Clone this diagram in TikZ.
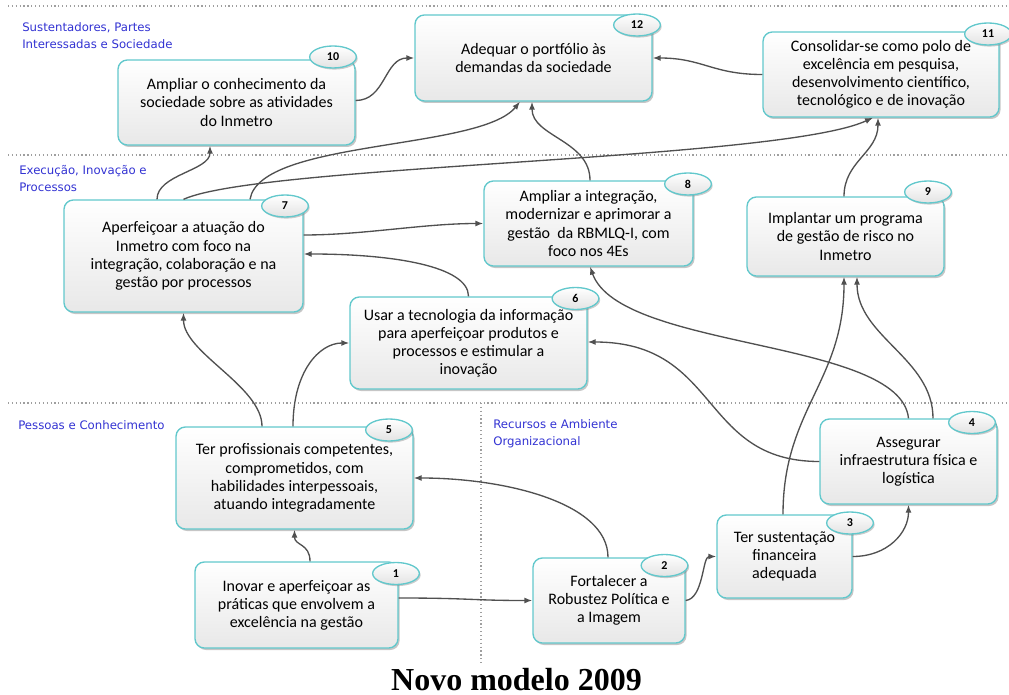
\documentclass[tikz,border=0pt]{standalone}
\usepackage{fontspec}
\setmainfont{Carlito}
\newfontfamily\areafont{DejaVu Sans}
\newfontfamily\titlefont{Liberation Serif}
\usepackage{tikz}
\usetikzlibrary{shapes,arrows.meta,calc,shadows}
\definecolor{boxrim}{RGB}{98,200,204}
\definecolor{linkgray}{RGB}{80,80,80}
\definecolor{areablue}{RGB}{50,50,210}

\begin{document}
\begin{tikzpicture}[x=0.75pt, y=-0.75pt,
	goal_box/.style 2 args={rectangle, rounded corners=7pt, draw=boxrim, line width=1pt, top color=white, bottom color=gray!18, drop shadow={shadow xshift=1.2pt, shadow yshift=-1.5pt, opacity=0.45}, minimum width=#1, minimum height=#2, inner sep=0pt, align=center, font=\fontsize{12}{13.6}\selectfont},
	num_badge/.style={ellipse, draw=boxrim, line width=1pt, top color=white, bottom color=gray!22, drop shadow={shadow xshift=1pt, shadow yshift=-1.2pt, opacity=0.4}, minimum width=35pt, minimum height=16.5pt, inner sep=0pt, font=\fontsize{9}{10}\selectfont\bfseries},
	link_arrow/.style={-{Latex[length=6pt,width=4.5pt]}, draw=linkgray, line width=1pt},
	area_label/.style={anchor=north west, inner sep=0pt, align=left, text=areablue, font=\areafont\fontsize{8.8}{12.75}\selectfont},
	sep_line/.style={dotted, draw=gray!75, line width=0.9pt}]
	\useasboundingbox (0,0) rectangle (1009,695);
	
	% faixas
	\draw[sep_line] (8,6) -- (1009,6);
	\draw[sep_line] (8,155) -- (1009,155);
	\draw[sep_line] (8,403) -- (1009,403);
	\draw[sep_line] (481,403) -- (481,665);
	
	\node[area_label] (lab_soc) at (22,22) {Sustentadores, Partes\\Interessadas e Sociedade};
	\node[area_label] (lab_exe) at (19,165) {Execução, Inovação e\\Processos};
	\node[area_label] (lab_pes) at (18,420) {Pessoas e Conhecimento};
	\node[area_label] (lab_rec) at (493,419) {Recursos e Ambiente\\Organizacional};
	
	% objetivos
	\node[goal_box={177.75pt}{63.75pt}] (g10) at (236.5,102.5) {Ampliar o conhecimento da\\sociedade sobre as atividades\\do Inmetro};
	\node[goal_box={177.75pt}{64.5pt}] (g12) at (533.5,58) {Adequar o portfólio às\\demandas da sociedade};
	\node[goal_box={177pt}{63.75pt}] (g11) at (881,74.5) {Consolidar-se como polo de\\excelência em pesquisa,\\desenvolvimento científico,\\tecnológico e de inovação};
	\node[goal_box={179.25pt}{84pt}] (g7) at (183.5,256) {Aperfeiçoar a atuação do\\Inmetro com foco na\\integração, colaboração e na\\gestão por processos};
	\node[goal_box={156.75pt}{63.75pt}] (g8) at (588.5,223.5) {Ampliar a integração,\\modernizar e aprimorar a\\gestão~ da RBMLQ-I, com\\foco nos 4Es};
	\node[goal_box={147.75pt}{59.25pt}] (g9) at (845.5,236.5) {Implantar um programa\\de gestão de risco no\\Inmetro};
	\node[goal_box={177.75pt}{69pt}] (g6) at (468.5,343) {Usar a tecnologia da informação\\para aperfeiçoar produtos e\\processos e estimular a\\inovação};
	\node[goal_box={177.75pt}{76.5pt}] (g5) at (294.5,478) {Ter profissionais competentes,\\comprometidos, com\\habilidades interpessoais,\\atuando integradamente};
	\node[goal_box={132.75pt}{63.75pt}] (g4) at (908.5,461.5) {Assegurar\\infraestrutura física e\\logística};
	\node[goal_box={101.25pt}{62.25pt}] (g3) at (784.5,556.5) {Ter sustentação\\financeira\\adequada};
	\node[goal_box={114pt}{63.75pt}] (g2) at (609,600.5) {Fortalecer a\\Robustez Política e\\a Imagem};
	\node[goal_box={152.25pt}{64.5pt}] (g1) at (296.5,605) {Inovar e aperfeiçoar as\\práticas que envolvem a\\excelência na gestão};
	
	% numeros
	\node[num_badge] (n10) at (333,57) {10};
	\node[num_badge] (n12) at (637,25) {12};
	\node[num_badge] (n11) at (988,34) {11};
	\node[num_badge] (n7) at (285,206) {7};
	\node[num_badge] (n8) at (688,184) {8};
	\node[num_badge] (n9) at (928,192) {9};
	\node[num_badge] (n6) at (575.5,298.5) {6};
	\node[num_badge] (n5) at (389,430) {5};
	\node[num_badge] (n4) at (972,422.5) {4};
	\node[num_badge] (n3) at (850,523) {3};
	\node[num_badge] (n2) at (664.5,565.5) {2};
	\node[num_badge] (n1) at (396,573.5) {1};
	
	% ligacoes
	\draw[link_arrow] ($(g1.north)+(13.5,0)$) .. controls +(0,-18) and +(0,16) .. (g5.south);
	\draw[link_arrow] ($(g1.east)+(0,-7)$) .. controls +(70,0) and +(-60,0) .. (g2.west);
	\draw[link_arrow] (g2.east) .. controls +(18,-2) and +(-14,0) .. (g3.west);
	\draw[link_arrow] (g3.east) .. controls +(35,0) and +(0,28) .. (g4.south);
	\draw[link_arrow] ($(g2.north)+(-1,0)$) .. controls +(0,-55) and +(90,0) .. (g5.east);
	\draw[link_arrow] ($(g3.north)+(-1.5,0)$) .. controls +(0,-105) and +(0,105) .. ($(g9.south)+(-1.5,0)$);
	\draw[link_arrow] ($(g4.north)+(24.5,0)$) .. controls +(0,-60) and +(0,60) .. ($(g9.south)+(11.5,0)$);
	\draw[link_arrow] (g4.north) .. controls +(-8,-80) and +(30,84) .. ($(g8.south)+(1.5,0)$);
	\draw[link_arrow] (g4.west) .. controls +(-120,0) and +(133,0) .. ($(g6.east)+(0,-1)$);
	\draw[link_arrow] ($(g5.north)+(-32.5,0)$) .. controls +(0,-40) and +(0,40) .. (g7.south);
	\draw[link_arrow] ($(g5.north)+(-1.5,0)$) .. controls +(0,-55) and +(-30,0) .. (g6.west);
	\draw[link_arrow] (g6.north) .. controls +(0,-30) and +(90,0) .. ($(g7.east)+(0,-2)$);
	\draw[link_arrow] ($(g7.east)+(0,-21)$) .. controls +(60,0) and +(-60,0) .. (g8.west);
	\draw[link_arrow] ($(g7.north)+(-26.5,0)$) .. controls +(0,-25) and +(0,25) .. ($(g10.south)+(-26.5,0)$);
	\draw[link_arrow] ($(g7.north)+(66.5,0)$) .. controls +(10,-60) and +(-40,49) .. ($(g12.south)+(-13.5,0)$);
	\draw[link_arrow] (g7.north) .. controls +(77,-35) and +(-93,43) .. ($(g11.south)+(-8,0)$);
	\draw[link_arrow] ($(g8.north)+(1.5,0)$) .. controls +(0,-40) and +(0,35) .. ($(g12.south)+(-1.5,0)$);
	\draw[link_arrow] ($(g9.north)+(-1.5,0)$) .. controls +(0,-35) and +(0,35) .. ($(g11.south)+(-3,0)$);
	\draw[link_arrow] ($(g10.east)+(0,-2)$) .. controls +(30,0) and +(-30,0) .. (g12.west);
	\draw[link_arrow] (g11.west) .. controls +(-50,0) and +(50,0) .. (g12.east);
	
	\node[anchor=base, inner sep=0pt, font=\titlefont\bfseries\fontsize{24}{28}\selectfont] (title) at (516.5,690) {Novo modelo 2009};
\end{tikzpicture}
\end{document}
